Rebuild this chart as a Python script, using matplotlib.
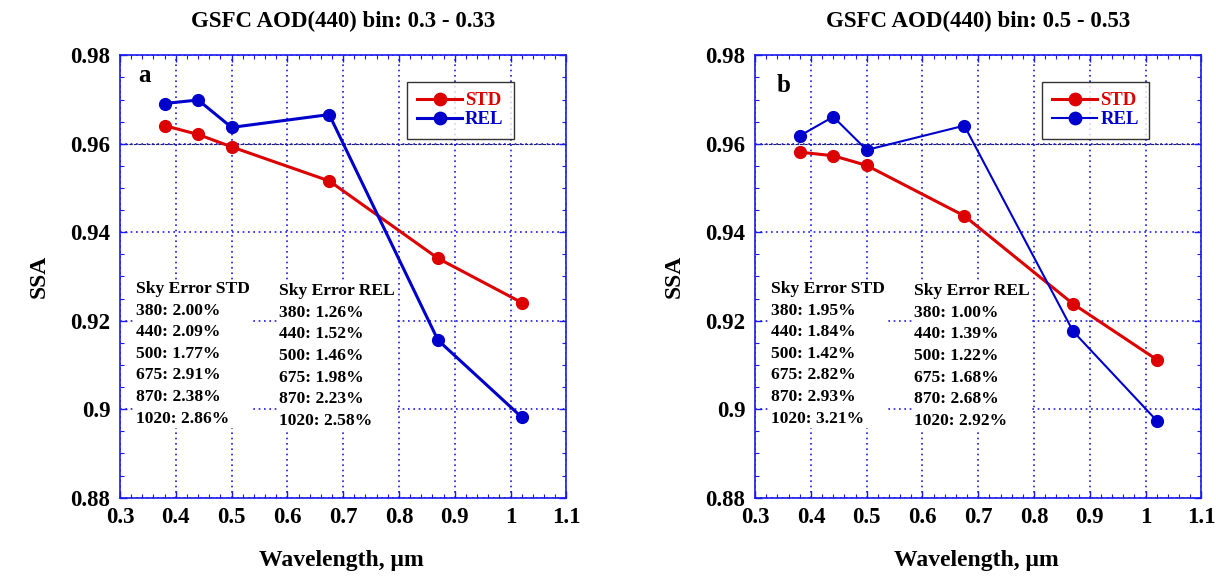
import matplotlib
matplotlib.use("Agg")
import matplotlib.pyplot as plt
from matplotlib.ticker import MultipleLocator

plt.rcParams["font.family"] = ["Liberation Serif", "DejaVu Serif"]
plt.rcParams["font.weight"] = "bold"

# Datos
wavelength = [0.38, 0.44, 0.50, 0.675, 0.87, 1.02]

ssa_std_a = [0.9641, 0.9621, 0.9593, 0.9516, 0.9341, 0.9241]
ssa_rel_a = [0.9691, 0.9699, 0.9637, 0.9666, 0.9156, 0.8982]

ssa_std_b = [0.9581, 0.9573, 0.9551, 0.9437, 0.9238, 0.9112]
ssa_rel_b = [0.9618, 0.9661, 0.9586, 0.9641, 0.9176, 0.8974]

titles = ["GSFC AOD(440) bin: 0.3 - 0.33", "GSFC AOD(440) bin: 0.5 - 0.53"]
panel_labels = ["a", "b"]

channels = ["380", "440", "500", "675", "870", "1020"]
sky_err_std_a = ["2.00", "2.09", "1.77", "2.91", "2.38", "2.86"]
sky_err_rel_a = ["1.26", "1.52", "1.46", "1.98", "2.23", "2.58"]
sky_err_std_b = ["1.95", "1.84", "1.42", "2.82", "2.93", "3.21"]
sky_err_rel_b = ["1.00", "1.39", "1.22", "1.68", "2.68", "2.92"]

ref_ssa = 0.96

RED = "#dd0000"
BLUE = "#0000cc"
GRID = "#1a1aee"

fig = plt.figure(figsize=(12.16, 5.76), dpi=100)
ax_a = fig.add_axes([0.0987, 0.136, 0.367, 0.768])
ax_b = fig.add_axes([0.621, 0.136, 0.367, 0.768])

paneles = [
    (ax_a, ssa_std_a, ssa_rel_a, sky_err_std_a, sky_err_rel_a, 2.2, 0.939, 0.040),
    (ax_b, ssa_std_b, ssa_rel_b, sky_err_std_b, sky_err_rel_b, 1.5, 0.916, 0.048),
]

for i, (ax, std, rel, err_std, err_rel, lw_rel, ly, lx) in enumerate(paneles):
    ax.plot(wavelength, std, "-o", color=RED, lw=2.2, ms=8.5, label="STD", zorder=5)
    ax.plot(wavelength, rel, "-o", color=BLUE, lw=lw_rel, ms=8.5, label="REL", zorder=5)

    ax.set_xlim(0.3, 1.1)
    ax.set_ylim(0.88, 0.98)
    ax.xaxis.set_minor_locator(MultipleLocator(0.02))
    ax.yaxis.set_minor_locator(MultipleLocator(0.005))
    ax.set_xticks([0.3, 0.4, 0.5, 0.6, 0.7, 0.8, 0.9, 1.0, 1.1])
    ax.set_xticklabels(["0.3", "0.4", "0.5", "0.6", "0.7", "0.8", "0.9", "1", "1.1"])
    ax.set_yticks([0.88, 0.9, 0.92, 0.94, 0.96, 0.98])
    ax.set_yticklabels(["0.88", "0.9", "0.92", "0.94", "0.96", "0.98"])

    ax.tick_params(which="both", direction="in", top=True, right=True,
                   color=GRID, labelsize=16.5)
    ax.tick_params(which="major", length=5, width=1, pad=7)
    ax.tick_params(which="minor", length=3, width=0.8)
    for sp in ax.spines.values():
        sp.set_color(GRID)
        sp.set_linewidth(1.2)

    ax.grid(True, which="major", color=GRID, ls=(0, (1, 2.2)), lw=1.2, zorder=0)
    ax.axhline(ref_ssa, color="#202050", ls=(0, (3, 1)), lw=0.8, zorder=1)

    ax.set_title(titles[i], fontsize=16.5, fontweight="bold", pad=20)
    ax.set_ylabel("SSA", fontsize=17, fontweight="bold")
    ax.set_xlabel("Wavelength, μm", fontsize=17, fontweight="bold")
    ax.yaxis.set_label_coords(-0.158, 0.5)
    ax.xaxis.set_label_coords(0.495, -0.118)

    ax.text(lx, ly, panel_labels[i], transform=ax.transAxes, fontsize=18,
            fontweight="bold", va="baseline", ha="left")

    txt_std = "Sky Error STD\n" + "\n".join(
        f"{c}: {e}%" for c, e in zip(channels, err_std))
    txt_rel = "Sky Error REL\n" + "\n".join(
        f"{c}: {e}%" for c, e in zip(channels, err_rel))
    ax.text(0.036, 0.49, txt_std, transform=ax.transAxes, fontsize=12.6,
            fontweight="bold", va="top", ha="left", linespacing=1.47,
            bbox=dict(facecolor="white", edgecolor="none", pad=1), zorder=3)
    ax.text(0.356, 0.485, txt_rel, transform=ax.transAxes, fontsize=12.6,
            fontweight="bold", va="top", ha="left", linespacing=1.47,
            bbox=dict(facecolor="white", edgecolor="none", pad=1), zorder=3)

    leg = ax.legend(loc="upper left", bbox_to_anchor=(0.643, 0.94), fontsize=13.5,
                    frameon=True, fancybox=False, edgecolor="black",
                    handlelength=2.4, handletextpad=0.15, borderpad=0.55,
                    labelspacing=0.1, borderaxespad=0, markerscale=1.05)
    leg.get_frame().set_linewidth(1.0)
    for txt, col in zip(leg.get_texts(), [RED, BLUE]):
        txt.set_color(col)
        txt.set_fontweight("bold")

plt.savefig("out.png", dpi=100)
